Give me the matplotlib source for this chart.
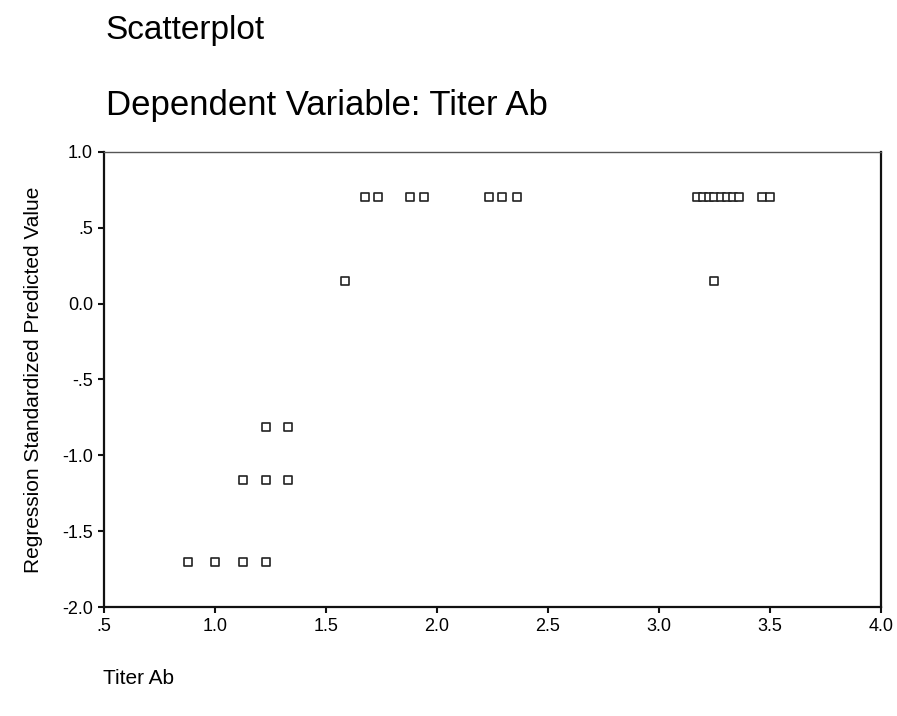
import matplotlib
matplotlib.use("Agg")
from matplotlib import pyplot as plt

# Titer Ab (x) vs regression standardized predicted value (y)
titer_ab = [0.88, 1.00, 1.125, 1.23,
            1.125, 1.23, 1.33,
            1.23, 1.33,
            1.585, 3.25,
            1.675, 1.735, 1.88, 1.94, 2.235, 2.295, 2.36,
            3.17, 3.20, 3.225, 3.25, 3.28, 3.305, 3.335, 3.36, 3.465, 3.50]
pred_value = [-1.70, -1.70, -1.70, -1.70,
              -1.16, -1.16, -1.16,
              -0.81, -0.81,
              0.15, 0.15,
              0.70, 0.70, 0.70, 0.70, 0.70, 0.70, 0.70,
              0.70, 0.70, 0.70, 0.70, 0.70, 0.70, 0.70, 0.70, 0.70, 0.70]

x_ticks = [0.5, 1.0, 1.5, 2.0, 2.5, 3.0, 3.5, 4.0]
x_labels = [".5", "1.0", "1.5", "2.0", "2.5", "3.0", "3.5", "4.0"]
y_ticks = [1.0, 0.5, 0.0, -0.5, -1.0, -1.5, -2.0]
y_labels = ["1.0", ".5", "0.0", "-.5", "-1.0", "-1.5", "-2.0"]

plt.rcParams['font.family'] = ['Liberation Sans', 'DejaVu Sans']

fig = plt.figure(figsize=(8.97, 7.16), dpi=100)
ax = fig.add_axes([0.116, 0.152, 0.866, 0.636])

ax.scatter(titer_ab, pred_value, marker='s', s=30, facecolors='white',
           edgecolors='#222222', linewidths=1.2, zorder=3)

ax.set_xlim(0.5, 4.0)
ax.set_ylim(-2.0, 1.0)
ax.set_xticks(x_ticks)
ax.set_xticklabels(x_labels, fontsize=13)
ax.set_yticks(y_ticks)
ax.set_yticklabels(y_labels, fontsize=13)
ax.tick_params(direction='out', length=4, width=1.5, color='#111111', pad=4)

for side in ['left', 'bottom', 'right']:
    ax.spines[side].set_linewidth(1.6)
    ax.spines[side].set_color('#111111')
ax.spines['top'].set_linewidth(1.0)
ax.spines['top'].set_color('#555555')
ax.spines['top'].set_linestyle((0, (2, 1)))

ax.set_ylabel("Regression Standardized Predicted Value", fontsize=15, labelpad=14)
fig.text(0.115, 0.053, "Titer Ab", fontsize=15, ha='left', va='center')

fig.text(0.118, 0.957, "Scatterplot", fontsize=24, ha='left', va='center')
fig.text(0.118, 0.852, "Dependent Variable: Titer Ab", fontsize=25, ha='left', va='center')

plt.savefig("out.png", dpi=100)
